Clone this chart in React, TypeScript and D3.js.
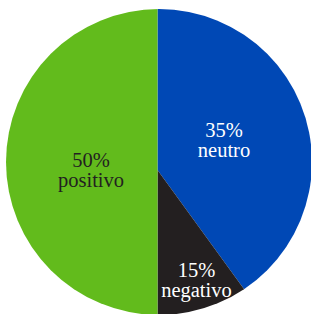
import React from "react";
import { pie, arc, PieArcDatum } from "d3";

// Slices, clockwise from 12 o'clock
const categories = ["neutro", "negativo", "positivo"];
const labels = ["35%", "15%", "50%"];
// wedge shares as drawn in the graphic (the printed wedges don't follow the labels exactly)
const drawnShares = [40, 10, 50];
const colors = ["#0048B5", "#231F20", "#62BB1C"];
const labelColors = ["#ffffff", "#ffffff", "#231F20"];

const W = 311;
const H = 314;

type Slice = { name: string; label: string; value: number; i: number };
const slices: Slice[] = categories.map((name, i) => ({
  name,
  label: labels[i],
  value: drawnShares[i],
  i,
}));

const serif =
  "'Liberation Serif', 'Times New Roman', Times, 'DejaVu Serif', 'Noto Serif', Georgia, serif";

export default function App() {
  // outer disc
  const cx = 159;
  const cy = 162;
  const r = 153;
  // point where the wedges meet, a little under the disc centre
  const ax = 157.5;
  const ay = 170;

  const pieGen = pie<Slice>()
    .sort(null)
    .value((d) => d.value)
    .startAngle(0)
    .endAngle(Math.PI * 2);
  const arcs = pieGen(slices);

  const arcGen = arc<PieArcDatum<Slice>>().innerRadius(0).outerRadius(r * 1.4);
  const labelArc = arc<PieArcDatum<Slice>>().innerRadius(0).outerRadius(150);

  const nudge: [number, number][] = [
    [-4.8, -6.8],
    [15.8, 38.7],
    [8.5, 0],
  ];

  return (
    <svg
      width={W}
      height={H}
      style={{ position: "absolute", left: 0, top: 0, background: "#fff" }}
    >
      <defs>
        <clipPath id="disc">
          <circle cx={cx} cy={cy} r={r} />
        </clipPath>
      </defs>
      <g clipPath="url(#disc)">
        <g transform={`translate(${ax},${ay})`}>
          {arcs.map((a) => (
            <path key={a.data.name} d={arcGen(a) ?? ""} fill={colors[a.data.i]} />
          ))}
        </g>
      </g>
      <g transform={`translate(${ax},${ay})`} fontFamily={serif} fontSize={20.5}>
        {arcs.map((a) => {
          const [x, y] = labelArc.centroid(a);
          const [dx, dy] = nudge[a.data.i];
          return (
            <text
              key={`l-${a.data.name}`}
              textAnchor="middle"
              fontFamily={serif}
              fill={labelColors[a.data.i]}
            >
              <tspan x={x + dx} y={y + dy - 3}>{a.data.label}</tspan>
              <tspan x={x + dx} y={y + dy + 17}>{a.data.name}</tspan>
            </text>
          );
        })}
      </g>
    </svg>
  );
}
